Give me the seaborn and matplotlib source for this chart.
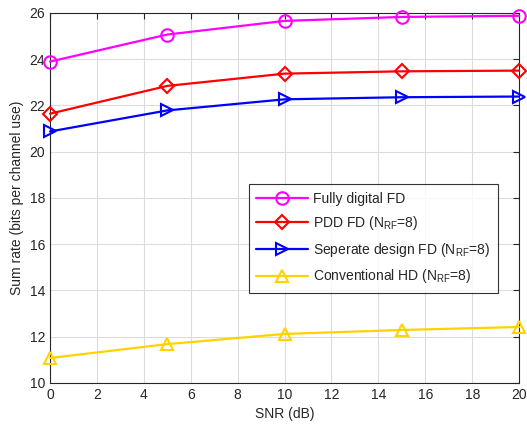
import matplotlib
matplotlib.use("Agg")
import matplotlib.pyplot as plt
import seaborn as sns

# SNR points and sum rates
snr = [0, 5, 10, 15, 20]
fully_digital = [23.89, 25.06, 25.65, 25.82, 25.87]
pdd_fd = [21.64, 22.84, 23.37, 23.47, 23.50]
separate_fd = [20.87, 21.78, 22.26, 22.35, 22.38]
conventional_hd = [11.08, 11.68, 12.12, 12.29, 12.42]

labels = ["Fully digital FD",
          r"PDD FD ($\mathregular{N_{RF}}$=8)",
          r"Seperate design FD ($\mathregular{N_{RF}}$=8)",
          r"Conventional HD ($\mathregular{N_{RF}}$=8)"]
colors = ["#FF00FF", "#FF0000", "#0000FF", "#FFD200"]
markers = ["o", "D", ">", "^"]
sizes = [9, 7.5, 9, 9]

sns.set_style("white")
plt.rcParams['font.family'] = ['Liberation Sans', 'DejaVu Sans']
plt.rcParams['font.size'] = 10

fig = plt.figure(figsize=(5.27, 4.26), dpi=100)
ax = fig.add_axes([0.095, 0.101, 0.89, 0.869])

for vals, lab, c, m, ms in zip([fully_digital, pdd_fd, separate_fd, conventional_hd],
                               labels, colors, markers, sizes):
    sns.lineplot(x=snr, y=vals, ax=ax, color=c, marker=m, label=lab,
                 linewidth=1.6, markersize=ms, mfc='none', mec=c, mew=1.5,
                 clip_on=False, zorder=3)

ax.set_xlim(0, 20)
ax.set_ylim(10, 26)
ax.set_xticks(range(0, 21, 2))
ax.set_yticks(range(10, 27, 2))
ax.grid(True, color="#DCDCDC", linewidth=0.8)
ax.set_axisbelow(True)
ax.tick_params(direction='in', top=True, right=True, length=4,
               color="#262626", labelcolor="#262626", labelsize=10)
for s in ax.spines.values():
    s.set_color("#262626")
    s.set_linewidth(0.8)

ax.set_xlabel("SNR (dB)", color="#262626", fontsize=10)
ax.set_ylabel("Sum rate (bits per channel use)", color="#262626", fontsize=10)

leg = ax.legend(loc='lower right', bbox_to_anchor=(0.955, 0.243),
                borderaxespad=0, fontsize=10, frameon=True, fancybox=False,
                edgecolor="black", handlelength=3.7, handletextpad=0.4,
                labelspacing=0.62, borderpad=0.55)
leg.get_frame().set_linewidth(0.8)
leg.set_zorder(5)

fig.savefig("out.png", dpi=100)
